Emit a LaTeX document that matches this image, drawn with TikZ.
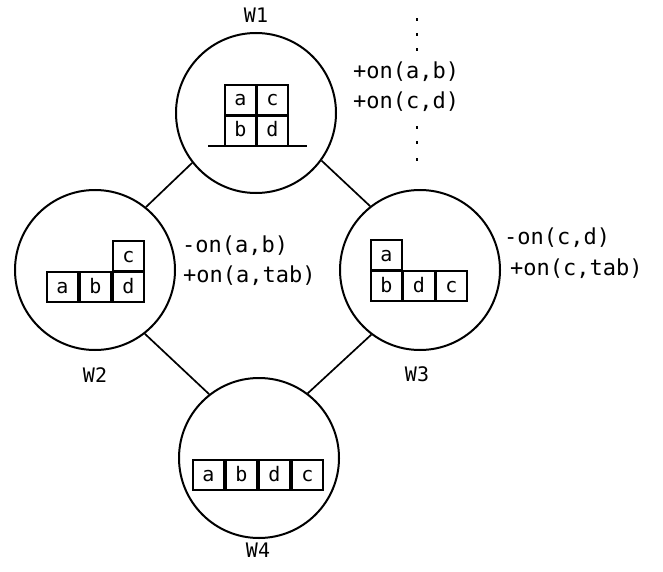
\documentclass[tikz,border=0pt]{standalone}
\usepackage{fontspec}
\setmonofont{DejaVu Sans Mono}
\begin{document}
\begin{tikzpicture}[x=1pt,y=-1pt,
  world/.style={circle, draw, line width=2pt, minimum size=160pt, inner sep=0pt},
  blk/.style={draw, line width=1.6pt, minimum width=31pt, minimum height=30pt, inner sep=0pt,
              text height=12pt, text depth=0pt, font=\ttfamily\fontsize{20}{22}\selectfont},
  wlab/.style={font=\ttfamily\fontsize{20}{22}\selectfont, inner sep=0pt},
  op/.style={font=\ttfamily\fontsize{22}{24}\selectfont, inner sep=0pt, anchor=base west},
  link/.style={line width=1.7pt},
  tabline/.style={line width=1.7pt},
  dotmark/.style={rectangle, fill, inner sep=0pt, minimum width=2.2pt, minimum height=3pt}]
\useasboundingbox (0,0) rectangle (663,572);

% worlds
\node[world] (w1) at (256,113) {};
\node[world] (w2) at (95,270) {};
\node[world] (w3) at (420,270) {};
\node[world] (w4) at (259,458) {};

% world labels
\node[wlab] (l1) at (256,15) {W1};
\node[wlab] (l2) at (95,375) {W2};
\node[wlab] (l3) at (417,374) {W3};
\node[wlab] (l4) at (258,550) {W4};

% connectors
\draw[link] (w1.218) -- (w2.51);
\draw[link] (w1.-36) -- (w3.128);
\draw[link] (w2.-52) -- (w4.128);
\draw[link] (w3.-127) -- (w4.53);

% W1 blocks
\node[blk] (w1a) at (240.5,100) {a};
\node[blk] (w1c) at (272.5,100) {c};
\node[blk] (w1b) at (240.5,131) {b};
\node[blk] (w1d) at (272.5,131) {d};
\coordinate (t1) at (208,146);
\coordinate (t2) at (307,146);
\draw[tabline] (t1) -- (t2);

% W2 blocks
\node[blk] (w2a) at (62.5,287) {a};
\node[blk] (w2b) at (95.5,287) {b};
\node[blk] (w2d) at (128.5,287) {d};
\node[blk] (w2c) at (128.5,256) {c};

% W3 blocks
\node[blk] (w3a) at (386.5,255) {a};
\node[blk] (w3b) at (386.5,286) {b};
\node[blk] (w3d) at (419,286) {d};
\node[blk] (w3c) at (451.5,286) {c};

% W4 blocks
\node[blk] (w4a) at (208.5,475) {a};
\node[blk] (w4b) at (241.5,475) {b};
\node[blk] (w4d) at (274.5,475) {d};
\node[blk] (w4c) at (307.5,475) {c};

% operator texts
\node[op] (o1) at (353,79) {+on(a,b)};
\node[op] (o2) at (353,109) {+on(c,d)};
\node[op] (o3) at (182,252) {-on(a,b)};
\node[op] (o4) at (183,282) {+on(a,tab)};
\node[op] (o5) at (504,244) {-on(c,d)};
\node[op] (o6) at (510,275) {+on(c,tab)};

% dots
\node[dotmark] (p1) at (417,20) {};
\node[dotmark] (p2) at (417,35) {};
\node[dotmark] (p3) at (417,50) {};
\node[dotmark] (p4) at (417,128) {};
\node[dotmark] (p5) at (417,143) {};
\node[dotmark] (p6) at (417,160) {};
\end{tikzpicture}
\end{document}
